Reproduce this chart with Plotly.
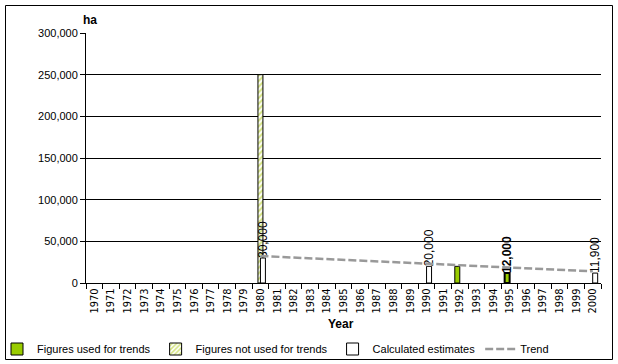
import plotly.graph_objects as go

# ---- data ----
years = [str(y) for y in range(1970, 2001)]
used_for_trends = {"1992": 20000, "1995": 12000}
not_used_for_trends = {"1980": 250000}
calculated_estimates = {"1980": 30000, "1990": 20000, "2000": 11900}
estimate_labels = {"1980": "30,000", "1990": "20,000", "2000": "11,900"}
used_labels = {"1995": "<b>12,000</b>"}
trend_years = ["1980", "2000"]
trend_values = [32400, 14000]
y_ticks = [0, 50000, 100000, 150000, 200000, 250000, 300000]

FONT = "Arial, Liberation Sans, sans-serif"
NARROW = "Liberation Sans Narrow, Arial Narrow, DejaVu Sans Condensed, Arial, sans-serif"

def series(d):
    return [d.get(y) for y in years]

def labels(d):
    return [d.get(y, "") for y in years]

fig = go.Figure()

fig.add_trace(go.Bar(
    name="Figures used for trends",
    x=years, y=series(used_for_trends),
    width=0.3, offset=-0.3,
    marker=dict(color="#99CC00",
                line=dict(color="black",
                          width=[2 if y == "1995" else 1 for y in years])),
    text=labels(used_labels), textposition="outside", textangle=-90,
    textfont=dict(family=FONT, size=12, color="black"),
    constraintext="none", cliponaxis=False,
))

fig.add_trace(go.Bar(
    name="Figures not used for trends",
    x=years, y=series(not_used_for_trends),
    width=0.3, offset=-0.15,
    marker=dict(color="white",
                line=dict(color="black", width=1),
                pattern=dict(shape="/", fgcolor="#A8C800", bgcolor="white",
                             size=4, solidity=0.5)),
))

fig.add_trace(go.Bar(
    name="Calculated estimates",
    x=years, y=series(calculated_estimates),
    width=0.3, offset=0.0,
    marker=dict(color="white", line=dict(color="black", width=1)),
    text=labels(estimate_labels), textposition="outside", textangle=-90,
    textfont=dict(family=FONT, size=12, color="black"),
    constraintext="none", cliponaxis=False,
))

fig.add_trace(go.Scatter(
    name="Trend",
    x=trend_years, y=trend_values,
    mode="lines",
    line=dict(color="#999999", width=2.5, dash="8px,3px"),
))

# plot area in px: x 86..601, y 33..283
L, R, T, B = 86, 601, 33, 283
W, H = R - L, B - T

def px_x(x):
    return (x - L) / W

def px_y(y):
    return (B - y) / H

fig.update_layout(
    width=618, height=364,
    margin=dict(l=L, r=618 - R, t=T, b=364 - B, autoexpand=False),
    paper_bgcolor="white", plot_bgcolor="white",
    barmode="overlay",
    font=dict(family=FONT, size=11, color="black"),
    showlegend=True,
    legend=dict(orientation="h", x=px_x(-3), y=px_y(349), xanchor="left",
                yanchor="middle", font=dict(family=FONT, size=11),
                itemwidth=30, bgcolor="rgba(0,0,0,0)", traceorder="normal"),
    xaxis=dict(type="category", categoryorder="array", categoryarray=years,
               showline=True, linecolor="black", linewidth=1,
               ticks="outside", ticklen=5, tickcolor="black",
               tickson="boundaries", tickangle=-90,
               tickfont=dict(family=NARROW, size=11),
               showgrid=False, zeroline=False, automargin=False),
    yaxis=dict(range=[0, 300000], tickvals=y_ticks, tickformat=",",
               showline=True, linecolor="black", linewidth=1,
               ticks="outside", ticklen=5, tickcolor="black",
               showgrid=True, gridcolor="black", gridwidth=1,
               zeroline=False, tickfont=dict(family=FONT, size=11),
               automargin=False),
    shapes=[dict(type="rect", xref="paper", yref="paper",
                 x0=px_x(5.5), x1=px_x(612.5), y0=px_y(359.5), y1=px_y(5.5),
                 line=dict(color="black", width=1), fillcolor="rgba(0,0,0,0)",
                 layer="below")],
    annotations=[
        dict(text="<b>ha</b>", xref="paper", yref="paper",
             x=px_x(89.5), y=px_y(20), xanchor="center", yanchor="middle",
             showarrow=False, font=dict(family=FONT, size=12)),
        dict(text="<b>Year</b>", xref="paper", yref="paper",
             x=px_x(341), y=px_y(324), xanchor="center", yanchor="middle",
             showarrow=False, font=dict(family=FONT, size=12)),
    ],
)

fig.write_html("out.html",
               config={"displayModeBar": False},
               post_script="document.body.style.margin='0';"
                           "document.body.style.overflow='hidden';")
